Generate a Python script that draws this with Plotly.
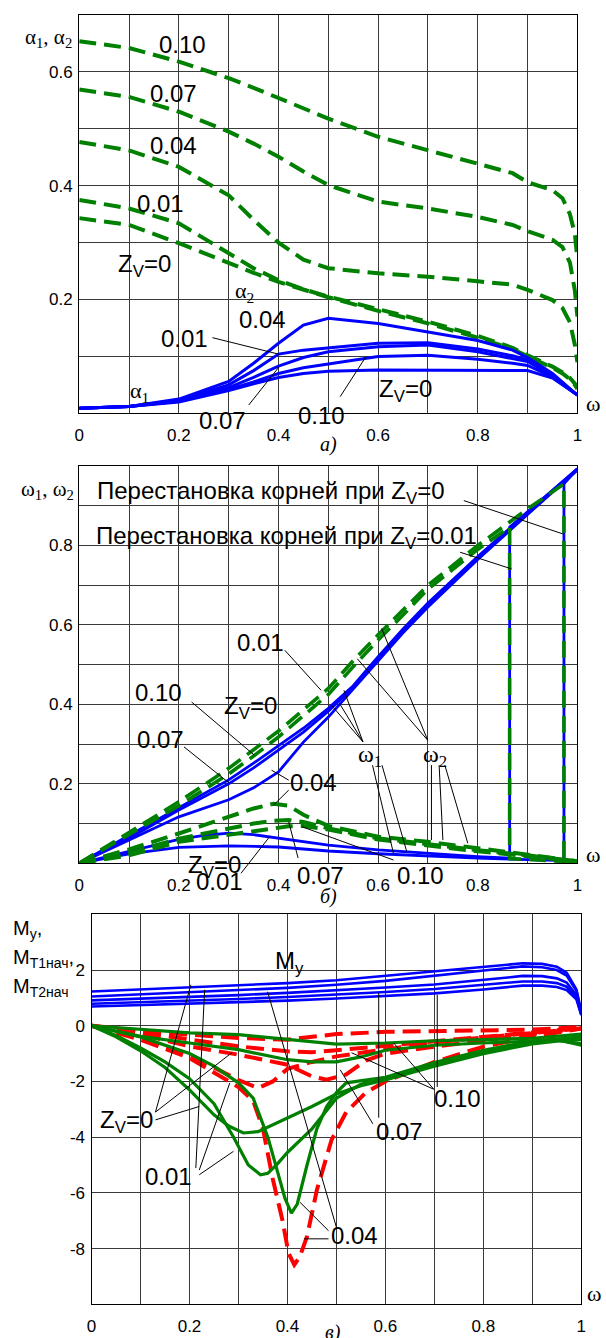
import plotly.graph_objects as go

# ---------------- panel a): damping coefficients alpha1 (solid) / alpha2 (dashed) ----------------
a2_w = [0, 0.1, 0.2, 0.3, 0.35, 0.4, 0.45, 0.5, 0.6, 0.7, 0.8, 0.87, 0.9, 0.95, 0.97, 0.985, 0.995, 1.0]
a2_zv010 = [0.654, 0.642, 0.618, 0.589, 0.572, 0.554, 0.536, 0.518, 0.486, 0.462, 0.439, 0.422, 0.406, 0.392, 0.378, 0.350, 0.315, 0.27]
a2_zv007 = [0.569, 0.556, 0.530, 0.495, 0.474, 0.451, 0.425, 0.401, 0.372, 0.360, 0.345, 0.331, 0.320, 0.305, 0.292, 0.265, 0.215, 0.17]
a2_zv004 = [0.477, 0.462, 0.433, 0.383, 0.340, 0.300, 0.270, 0.255, 0.246, 0.240, 0.232, 0.226, 0.217, 0.199, 0.185, 0.160, 0.120, 0.09]
a2_zv001 = [0.375, 0.360, 0.334, 0.281, 0.255, 0.234, 0.218, 0.205, 0.183, 0.161, 0.136, 0.115, 0.102, 0.082, 0.072, 0.062, 0.052, 0.045]
a2_zv0 = [0.343, 0.331, 0.299, 0.264, 0.247, 0.231, 0.217, 0.204, 0.180, 0.158, 0.133, 0.113, 0.100, 0.080, 0.070, 0.060, 0.050, 0.043]

a1_w = [0, 0.1, 0.2, 0.3, 0.35, 0.4, 0.45, 0.5, 0.6, 0.7, 0.8, 0.87, 0.9, 0.95, 1.0]
a1_zv004 = [0.009, 0.012, 0.025, 0.056, 0.088, 0.123, 0.155, 0.167, 0.158, 0.143, 0.128, 0.111, 0.098, 0.070, 0.032]
a1_zv001 = [0.009, 0.012, 0.023, 0.050, 0.075, 0.104, 0.111, 0.115, 0.123, 0.124, 0.113, 0.101, 0.094, 0.068, 0.032]
a1_zv007 = [0.009, 0.012, 0.022, 0.045, 0.063, 0.083, 0.098, 0.108, 0.117, 0.120, 0.108, 0.097, 0.091, 0.066, 0.032]
a1_zv010 = [0.009, 0.012, 0.021, 0.042, 0.055, 0.070, 0.080, 0.087, 0.100, 0.102, 0.095, 0.088, 0.084, 0.064, 0.032]
a1_zv0 = [0.009, 0.012, 0.020, 0.040, 0.052, 0.063, 0.070, 0.074, 0.076, 0.076, 0.076, 0.076, 0.075, 0.062, 0.032]

# ---------------- panel б): natural frequencies omega1 (solid) / omega2 (dashed) ----------------
w1_w = [0, 0.1, 0.2, 0.3, 0.35, 0.4, 0.45, 0.5, 0.55, 0.6, 0.65, 0.7, 0.8, 0.9, 1.0]
w1_zv010 = [0, 0.070, 0.142, 0.210, 0.252, 0.297, 0.340, 0.390, 0.447, 0.520, 0.590, 0.655, 0.772, 0.883, 0.993]
w1_zv007 = [0, 0.063, 0.134, 0.200, 0.240, 0.285, 0.330, 0.383, 0.443, 0.515, 0.585, 0.650, 0.768, 0.880, 0.990]
w1_zv004 = [0, 0.059, 0.117, 0.160, 0.190, 0.230, 0.305, 0.368, 0.438, 0.510, 0.580, 0.645, 0.765, 0.878, 0.990]

# omega1 for Zv=0 and 0.01: low branch, then root swap jumps onto the upper branch
w1_zv001_w = [0, 0.1, 0.2, 0.25, 0.3, 0.35, 0.4, 0.5, 0.6, 0.7, 0.8, 0.864, 0.864, 0.9, 0.95, 1.0]
w1_zv001 = [0, 0.030, 0.060, 0.070, 0.076, 0.072, 0.063, 0.046, 0.034, 0.025, 0.017, 0.013, 0.846, 0.885, 0.940, 0.993]
w1_zv0_w = [0, 0.1, 0.2, 0.3, 0.4, 0.5, 0.6, 0.7, 0.8, 0.9, 0.973, 0.973, 1.0]
w1_zv0 = [0, 0.024, 0.040, 0.044, 0.041, 0.031, 0.024, 0.018, 0.013, 0.009, 0.007, 0.955, 0.993]

# omega2 for Zv=0 and 0.01: upper branch, then swap drops onto the low branch
w2_zv0_w = [0, 0.1, 0.2, 0.3, 0.35, 0.4, 0.5, 0.55, 0.6, 0.65, 0.7, 0.8, 0.85, 0.9, 0.95, 0.973, 0.973, 1.0]
w2_zv0 = [0, 0.077, 0.155, 0.239, 0.285, 0.333, 0.440, 0.510, 0.575, 0.636, 0.700, 0.800, 0.846, 0.892, 0.935, 0.955, 0.006, 0.002]
w2_zv001_w = [0, 0.1, 0.2, 0.3, 0.35, 0.4, 0.5, 0.55, 0.6, 0.65, 0.7, 0.8, 0.864, 0.864, 0.9, 0.95, 1.0]
w2_zv001 = [0, 0.072, 0.145, 0.225, 0.270, 0.318, 0.425, 0.495, 0.562, 0.625, 0.690, 0.790, 0.846, 0.012, 0.010, 0.007, 0.003]

w2_w = [0, 0.1, 0.2, 0.3, 0.35, 0.39, 0.42, 0.45, 0.5, 0.6, 0.7, 0.8, 0.9, 1.0]
w2_zv004 = [0, 0.035, 0.075, 0.117, 0.138, 0.150, 0.145, 0.122, 0.094, 0.067, 0.054, 0.038, 0.022, 0.005]
w2_zv007 = [0, 0.025, 0.062, 0.088, 0.100, 0.107, 0.109, 0.104, 0.088, 0.063, 0.047, 0.033, 0.020, 0.005]
w2_zv010 = [0, 0.020, 0.054, 0.071, 0.080, 0.088, 0.093, 0.094, 0.085, 0.060, 0.044, 0.030, 0.018, 0.004]

# ---------------- panel в): moments My (blue), MT1нач (green), MT2нач (red dashed) ----------------
my_w = [0, 0.1, 0.2, 0.3, 0.4, 0.5, 0.6, 0.7, 0.8, 0.85, 0.88, 0.92, 0.95, 0.97, 0.99, 1.0]
my_1 = [1.23, 1.30, 1.38, 1.45, 1.53, 1.63, 1.79, 1.97, 2.13, 2.20, 2.24, 2.22, 2.12, 1.90, 1.30, 0.50]
my_2 = [1.05, 1.12, 1.20, 1.28, 1.36, 1.47, 1.61, 1.80, 1.98, 2.08, 2.13, 2.10, 2.00, 1.80, 1.25, 0.45]
my_3 = [0.91, 0.97, 1.03, 1.10, 1.18, 1.27, 1.37, 1.48, 1.63, 1.73, 1.79, 1.78, 1.70, 1.55, 1.10, 0.42]
my_4 = [0.79, 0.84, 0.90, 0.96, 1.03, 1.11, 1.21, 1.32, 1.46, 1.54, 1.59, 1.59, 1.53, 1.40, 1.00, 0.40]
my_5 = [0.69, 0.74, 0.79, 0.84, 0.90, 0.98, 1.06, 1.16, 1.30, 1.38, 1.44, 1.44, 1.39, 1.28, 0.95, 0.38]

mt1_zv0_w = [0, 0.05, 0.1, 0.15, 0.2, 0.25, 0.28, 0.31, 0.34, 0.4, 0.45, 0.5, 0.55, 0.6, 0.7, 0.8, 0.9, 0.95, 1.0]
mt1_zv0 = [0, -0.40, -0.90, -1.50, -2.30, -3.20, -3.60, -3.85, -3.80, -3.30, -2.90, -2.45, -2.15, -1.95, -1.45, -1.00, -0.65, -0.55, -0.50]
mt1_zv001_w = [0, 0.05, 0.1, 0.15, 0.2, 0.25, 0.29, 0.32, 0.345, 0.36, 0.38, 0.4, 0.45, 0.5, 0.55, 0.6, 0.7, 0.8, 0.9, 0.95, 1.0]
mt1_zv001 = [0, -0.35, -0.80, -1.30, -1.90, -2.80, -4.00, -5.00, -5.35, -5.30, -4.95, -4.55, -3.70, -2.60, -2.10, -1.90, -1.38, -0.95, -0.60, -0.52, -0.65]
mt1_zv004_w = [0, 0.1, 0.2, 0.25, 0.3, 0.33, 0.36, 0.38, 0.395, 0.408, 0.42, 0.44, 0.46, 0.48, 0.5, 0.52, 0.6, 0.7, 0.8, 0.9, 0.95, 1.0]
mt1_zv004 = [0, -0.40, -1.00, -1.45, -2.05, -2.60, -4.00, -5.20, -6.20, -6.73, -6.40, -5.00, -3.70, -2.90, -2.40, -2.05, -1.85, -1.32, -0.88, -0.55, -0.50, -0.70]
mt1_zv007_w = [0, 0.1, 0.2, 0.3, 0.4, 0.45, 0.5, 0.55, 0.6, 0.7, 0.8, 0.9, 1.0]
mt1_zv007 = [0, -0.38, -0.62, -0.86, -1.22, -1.30, -1.30, -1.12, -0.88, -0.70, -0.62, -0.55, -0.40]
mt1_zv010_w = [0, 0.1, 0.2, 0.3, 0.4, 0.5, 0.6, 0.7, 0.8, 0.9, 1.0]
mt1_zv010 = [0, -0.14, -0.26, -0.32, -0.50, -0.66, -0.62, -0.54, -0.50, -0.45, -0.30]

mt2_a_w = [0, 0.1, 0.2, 0.3, 0.4, 0.5, 0.6, 0.7, 0.8, 0.9, 1.0]
mt2_a = [0, -0.18, -0.32, -0.44, -0.50, -0.30, -0.22, -0.20, -0.18, -0.14, -0.05]
mt2_b_w = [0, 0.1, 0.2, 0.3, 0.4, 0.45, 0.5, 0.6, 0.7, 0.8, 0.9, 1.0]
mt2_b = [0, -0.24, -0.50, -0.74, -0.92, -0.95, -0.88, -0.72, -0.55, -0.40, -0.25, -0.08]
mt2_c_w = [0, 0.1, 0.2, 0.3, 0.4, 0.45, 0.48, 0.52, 0.56, 0.6, 0.7, 0.8, 0.9, 1.0]
mt2_c = [0, -0.30, -0.74, -1.04, -1.40, -1.82, -1.94, -1.75, -1.25, -1.00, -0.75, -0.52, -0.30, -0.10]
mt2_d_w = [0, 0.1, 0.2, 0.25, 0.3, 0.34, 0.37, 0.4, 0.45, 0.5, 0.6, 0.7, 0.8, 0.9, 1.0]
mt2_d = [0, -0.45, -1.05, -1.50, -1.95, -2.24, -2.00, -1.55, -1.30, -1.10, -0.85, -0.60, -0.42, -0.26, -0.10]
mt2_e_w = [0, 0.1, 0.2, 0.3, 0.33, 0.35, 0.37, 0.39, 0.402, 0.414, 0.425, 0.44, 0.46, 0.49, 0.52, 0.56, 0.6, 0.7, 0.8, 0.9, 1.0]
mt2_e = [0, -0.50, -1.16, -2.20, -2.70, -3.70, -5.50, -7.00, -8.16, -8.58, -8.30, -7.56, -5.90, -4.10, -3.10, -2.40, -2.00, -1.30, -0.75, -0.40, -0.10]

# ---------------- axes ----------------
x_ticks = [0, 0.1, 0.2, 0.3, 0.4, 0.5, 0.6, 0.7, 0.8, 0.9, 1.0]
x_ticktext = ["0", "", "0.2", "", "0.4", "", "0.6", "", "0.8", "", "1"]
a_yticks = [0, 0.1, 0.2, 0.3, 0.4, 0.5, 0.6, 0.7]
a_yticktext = ["", "", "0.2", "", "0.4", "", "0.6", ""]
b_yticks = [0, 0.1, 0.2, 0.3, 0.4, 0.5, 0.6, 0.7, 0.8, 0.9, 1.0]
b_yticktext = ["", "", "0.2", "", "0.4", "", "0.6", "", "0.8", "", ""]
c_yticks = [-10, -8, -6, -4, -2, 0, 2, 4]
c_yticktext = ["", "-8", "-6", "-4", "-2", "0", "2", ""]

W, H = 606, 1338
XDOM = {1: [75.5 / W, 582 / W], 2: [75.5 / W, 582 / W], 3: [88 / W, 586 / W]}
YDOM = {1: [1 - 413.3 / H, 1 - 15 / H], 2: [1 - 863.3 / H, 1 - 466 / H], 3: [1 - 1304.3 / H, 1 - 914.3 / H]}
XR = {1: [0, 1], 2: [0, 1], 3: [0, 1]}
YR = {1: [0, 0.7], 2: [0, 1.0], 3: [-10, 4]}

BLUE, GREEN, RED = "#0000ff", "#008000", "#ff0000"
SANS = "Liberation Sans, Arial, sans-serif"
SERIF = "Liberation Serif, Times New Roman, serif"

fig = go.Figure()


def add(panel, x, y, color, width, dash="solid"):
    ax = "" if panel == 1 else str(panel)
    fig.add_trace(go.Scatter(x=x, y=y, mode="lines", xaxis="x" + ax, yaxis="y" + ax,
                             line=dict(color=color, width=width, dash=dash),
                             hoverinfo="skip", showlegend=False))


DASH_G = "17px,8px"
DASH_R = "18px,8px"

# panel a
for ys in (a2_zv010, a2_zv007, a2_zv004, a2_zv001, a2_zv0):
    add(1, a2_w, ys, GREEN, 4, DASH_G)
for ys in (a1_zv004, a1_zv001, a1_zv007, a1_zv010, a1_zv0):
    add(1, a1_w, ys, BLUE, 3)

# panel б: solid omega1 first, dashed omega2 drawn over it
for ys in (w1_zv010, w1_zv007, w1_zv004):
    add(2, w1_w, ys, BLUE, 2.8)
add(2, w1_zv001_w, w1_zv001, BLUE, 2.8)
add(2, w1_zv0_w, w1_zv0, BLUE, 2.8)
for ys in (w2_zv004, w2_zv007, w2_zv010):
    add(2, w2_w, ys, GREEN, 4, DASH_G)
add(2, w2_zv0_w, w2_zv0, GREEN, 3.6, DASH_G)
add(2, w2_zv001_w, w2_zv001, GREEN, 3.6, DASH_G)

# panel в
for ys in (my_1, my_2, my_3, my_4, my_5):
    add(3, my_w, ys, BLUE, 2.6)
add(3, mt2_a_w, mt2_a, RED, 4, DASH_R)
add(3, mt2_b_w, mt2_b, RED, 4, DASH_R)
add(3, mt2_c_w, mt2_c, RED, 4, DASH_R)
add(3, mt2_d_w, mt2_d, RED, 4, DASH_R)
add(3, mt2_e_w, mt2_e, RED, 4, DASH_R)
add(3, mt1_zv010_w, mt1_zv010, GREEN, 3.2)
add(3, mt1_zv007_w, mt1_zv007, GREEN, 3.2)
add(3, mt1_zv0_w, mt1_zv0, GREEN, 3.2)
add(3, mt1_zv001_w, mt1_zv001, GREEN, 3.2)
add(3, mt1_zv004_w, mt1_zv004, GREEN, 3.2)


def to_paper(panel, xv, yv):
    xd, yd, xr, yr = XDOM[panel], YDOM[panel], XR[panel], YR[panel]
    px = xd[0] + (xv - xr[0]) / (xr[1] - xr[0]) * (xd[1] - xd[0])
    py = yd[0] + (yv - yr[0]) / (yr[1] - yr[0]) * (yd[1] - yd[0])
    return px, py


# leader lines from labels to curves, in each panel's own units
leaders = {
    1: [(0.2675, 0.1329, 0.4014, 0.1037), (0.3402, 0.0146, 0.4014, 0.0819),
        (0.5238, 0.0292, 0.5755, 0.0995)],
    2: [(0.772, 0.913, 0.971, 0.829), (0.7645, 0.783, 0.8677, 0.741),
        (0.4128, 0.536, 0.4855, 0.4354), (0.2255, 0.406, 0.3516, 0.272),
        (0.2103, 0.293, 0.302, 0.201), (0.4205, 0.2093, 0.386, 0.2344),
        (0.4205, 0.1842, 0.39, 0.1465),
        (0.5696, 0.3055, 0.5064, 0.3977), (0.5696, 0.3055, 0.5222, 0.4028),
        (0.5696, 0.3055, 0.5313, 0.4355),
        (0.5887, 0.247, 0.6308, 0.0251), (0.6077, 0.247, 0.6575, 0.0291),
        (0.6995, 0.3098, 0.5581, 0.515), (0.6995, 0.3098, 0.607, 0.591),
        (0.707, 0.247, 0.707, 0.0585), (0.7224, 0.247, 0.730, 0.0585),
        (0.7339, 0.247, 0.78, 0.0503),
        (0.3248, -0.025, 0.382, 0.0668), (0.4393, 0.0133, 0.4205, 0.1045),
        (0.6308, 0.0083, 0.4472, 0.092)],
    3: [(0.1305, -3.10, 0.2028, 1.47), (0.1305, -3.10, 0.2871, -0.96),
        (0.1305, -3.38, 0.2199, -2.90),
        (0.2129, -5.11, 0.2309, 1.29), (0.2199, -5.18, 0.2823, -2.05),
        (0.2199, -5.35, 0.2897, -4.51),
        (0.4997, -7.22, 0.3594, 1.22), (0.4839, -7.36, 0.4257, -6.34),
        (0.4839, -7.65, 0.4337, -7.65),
        (0.5743, -3.52, 0.5076, -1.58), (0.5863, -3.30, 0.5863, 1.18),
        (0.6988, -2.28, 0.5309, -0.97), (0.6988, -2.28, 0.6165, -0.61),
        (0.7058, -2.20, 0.7058, 1.11)],
}
shapes = []
for panel, segs in leaders.items():
    for x0, y0, x1, y1 in segs:
        p0 = to_paper(panel, x0, y0)
        p1 = to_paper(panel, x1, y1)
        shapes.append(dict(type="line", xref="paper", yref="paper",
                           x0=p0[0], y0=p0[1], x1=p1[0], y1=p1[1],
                           line=dict(color="black", width=1)))

annotations = []


def _font(size, family, italic):
    return dict(size=size, family=family, color="black", style="italic" if italic else "normal")


def label(panel, x, y, text, size=24, family=SANS, xanchor="center", italic=False):
    # placed in paper units so labels just outside the frame stay visible
    px, py = to_paper(panel, x, y)
    annotations.append(dict(x=px, y=py, xref="paper", yref="paper", text=text, showarrow=False,
                            xanchor=xanchor, yanchor="middle", font=_font(size, family, italic)))


def plabel(px, py, text, size=20, family=SANS, xanchor="center", italic=False):
    annotations.append(dict(x=px / W, y=1 - py / H, xref="paper", yref="paper", text=text,
                            showarrow=False, xanchor=xanchor, yanchor="middle",
                            font=_font(size, family, italic)))


ZV = "Z<sub>V</sub>"

# panel a labels
label(1, 0.2063, 0.649, "0.10")
label(1, 0.1886, 0.5612, "0.07")
label(1, 0.1886, 0.4698, "0.04")
label(1, 0.1629, 0.3687, "0.01")
label(1, 0.1303, 0.2606, ZV + "=0")
label(1, 0.3317, 0.2132, "α<sub>2</sub>", size=22, family=SERIF)
label(1, 0.3682, 0.1657, "0.04")
label(1, 0.2103, 0.1323, "0.01")
label(1, 0.1214, 0.0374, "α<sub>1</sub>", size=22, family=SERIF)
label(1, 0.2873, -0.0118, "0.07")
label(1, 0.4867, -0.0047, "0.10")
label(1, 0.6555, 0.0392, ZV + "=0")

# panel б labels
label(2, 0.0326, 0.933, "Перестановка корней при " + ZV + "=0", xanchor="left")
label(2, 0.0286, 0.8198, "Перестановка корней при " + ZV + "=0.01", xanchor="left")
label(2, 0.3631, 0.556, "0.01")
label(2, 0.1589, 0.4304, "0.10")
label(2, 0.3441, 0.3927, ZV + "=0")
label(2, 0.1625, 0.3123, "0.07")
label(2, 0.4703, 0.2043, "0.04")
label(2, 0.5844, 0.2696, "ω<sub>1</sub>", size=24, family=SERIF)
label(2, 0.7147, 0.2696, "ω<sub>2</sub>", size=24, family=SERIF)
label(2, 0.2715, -0.0093, ZV + "=0")
label(2, 0.2808, -0.0470, "0.01")
label(2, 0.4848, -0.0300, "0.07")
label(2, 0.6841, -0.0300, "0.10")

# panel в labels
label(3, 0.4046, 2.26, "M<sub>y</sub>")
label(3, 0.0723, -3.446, ZV + "=0")
label(3, 0.1576, -5.42, "0.01")
label(3, 0.5361, -7.538, "0.04")
label(3, 0.6285, -3.805, "0.07")
label(3, 0.7470, -2.62, "0.10")

# axis titles, placed beside the frames
plabel(70, 38, "α<sub>1</sub>, α<sub>2</sub>", size=21, family=SERIF, xanchor="right")
plabel(72, 490, "ω<sub>1</sub>, ω<sub>2</sub>", size=21, family=SERIF, xanchor="right")
plabel(6, 929, "M<sub>y</sub>,", size=20, xanchor="left")
plabel(6, 958, "M<sub>T1нач</sub>,", size=20, xanchor="left")
plabel(6, 987, "M<sub>T2нач</sub>", size=20, xanchor="left")
plabel(598, 403, "ω", size=22, family=SERIF)
plabel(598, 855, "ω", size=22, family=SERIF)
plabel(599, 1293, "ω", size=22, family=SERIF)
plabel(329, 444, "а)", size=20, family=SERIF, italic=True)
plabel(329, 896, "б)", size=20, family=SERIF, italic=True)
plabel(333, 1332, "в)", size=20, family=SERIF, italic=True)


def xaxis(panel, anchor):
    return dict(domain=XDOM[panel], range=XR[panel], anchor=anchor,
                tickmode="array", tickvals=x_ticks, ticktext=x_ticktext,
                showgrid=True, gridcolor="#3a3a3a", gridwidth=1, zeroline=False,
                showline=True, linecolor="black", linewidth=1.2, mirror=True,
                ticks="", ticklabelstandoff=6,
                tickfont=dict(size=17, family=SANS, color="black"))


def yaxis(panel, anchor, vals, text):
    return dict(domain=YDOM[panel], range=YR[panel], anchor=anchor,
                tickmode="array", tickvals=vals, ticktext=text,
                showgrid=True, gridcolor="#3a3a3a", gridwidth=1, zeroline=False,
                showline=True, linecolor="black", linewidth=1.2, mirror=True,
                ticks="", ticklabelstandoff=2,
                tickfont=dict(size=17, family=SANS, color="black"))


fig.update_layout(
    width=W, height=H, margin=dict(l=0, r=0, t=0, b=0),
    paper_bgcolor="white", plot_bgcolor="white", showlegend=False,
    xaxis=xaxis(1, "y"), yaxis=yaxis(1, "x", a_yticks, a_yticktext),
    xaxis2=xaxis(2, "y2"), yaxis2=yaxis(2, "x2", b_yticks, b_yticktext),
    xaxis3=xaxis(3, "y3"), yaxis3=yaxis(3, "x3", c_yticks, c_yticktext),
    shapes=shapes, annotations=annotations,
)

fig.write_html("out.html")
